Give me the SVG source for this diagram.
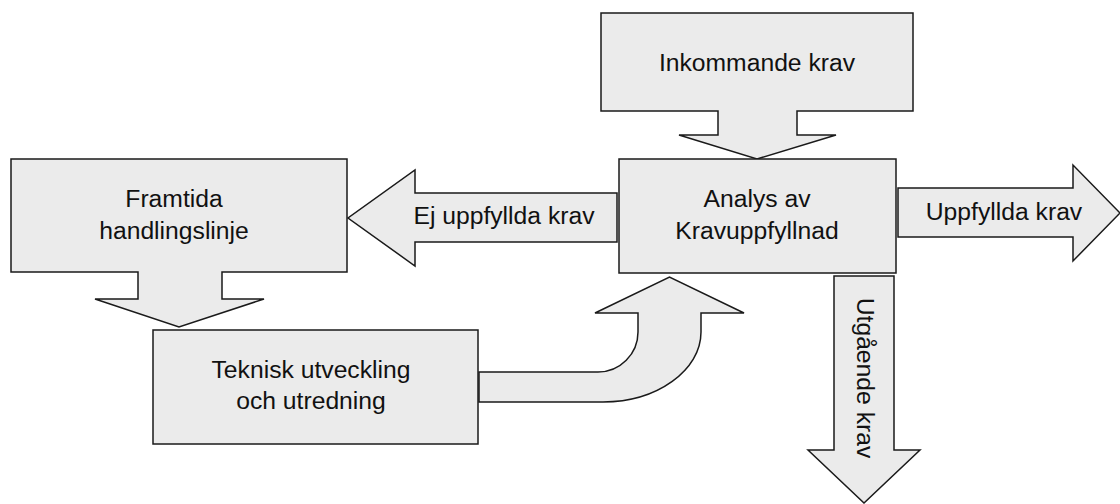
<svg xmlns="http://www.w3.org/2000/svg" width="1120" height="504" viewBox="0 0 1120 504">
<style>
.s{fill:#ebebeb;stroke:#1a1a1a;stroke-width:1.5;stroke-linejoin:miter}
.t{font-family:"Liberation Sans",Arial,Helvetica,sans-serif;font-size:24.7px;fill:#111;text-anchor:middle}
</style>
<rect width="1120" height="504" fill="#fff"/>
<g id="connectors">
<path class="s" d="M617,193 V242 H415 V266 L348,218 L415,170 V193 Z"/>
<path class="s" d="M898,188 H1073 V165 L1120,213 L1073,261 V237 H898 Z"/>
<path class="s" d="M834,276 H894 V450 H920 L864,503 L808,450 H834 Z"/>
<path class="s" d="M479,372 H598 C620,372 638,354 638,332 V313 H595 L669.5,277 L744,313 H701 V332 C701,370.5 657,402 603,402 H479 Z"/>
</g>
<g id="inkommande">
<path class="s" d="M601,13 H913 V111 H797 V135 H836 L757,159 L679,135 H718 V111 H601 Z"/>
<text class="t" x="757" y="71">Inkommande krav</text>
</g>
<g id="framtida">
<path class="s" d="M11,159 H347 V272 H222 V299 H264 L179,327 L95,299 H138 V272 H11 Z"/>
<text class="t" x="174" y="207">Framtida</text>
<text class="t" x="174" y="238.5">handlingslinje</text>
</g>
<g id="analys">
<rect class="s" x="619" y="159" width="277" height="114"/>
<text class="t" x="757" y="207">Analys av</text>
<text class="t" x="757" y="239">Kravuppfyllnad</text>
</g>
<g id="teknisk">
<rect class="s" x="153" y="330" width="325" height="114"/>
<text class="t" x="311" y="378">Teknisk utveckling</text>
<text class="t" x="311" y="409">och utredning</text>
</g>
<g id="labels">
<text class="t" x="504" y="224">Ej uppfyllda krav</text>
<text class="t" x="1004" y="220">Uppfyllda krav</text>
<text class="t" transform="translate(857,378) rotate(90)">Utgående krav</text>
</g>
</svg>
